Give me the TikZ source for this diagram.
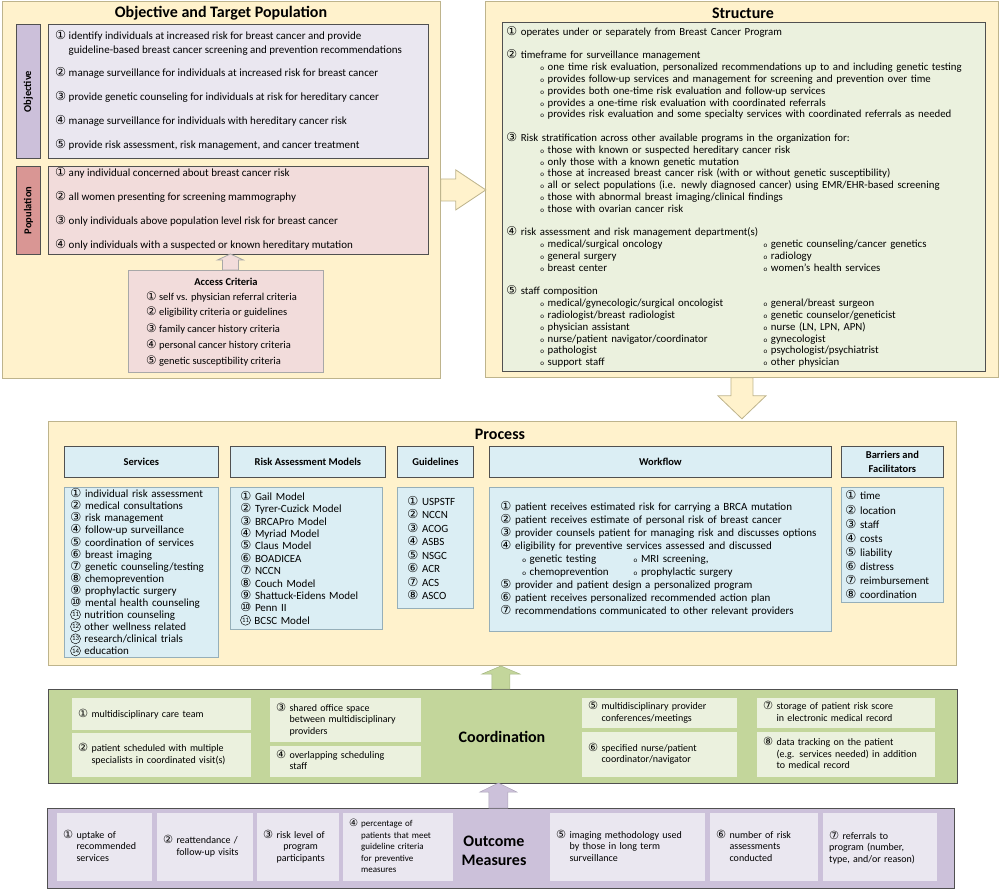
\documentclass[tikz,border=0pt]{standalone}
\usepackage{fontspec}
\setmainfont{Carlito}
\newfontfamily\circfont[Scale=1.12]{DejaVu Sans}
\usetikzlibrary{positioning,calc,shadows}
\definecolor{areafill}{RGB}{255,242,204}
\definecolor{arealine}{RGB}{190,180,140}
\definecolor{boxline}{RGB}{80,80,80}
\definecolor{objlabel}{RGB}{204,192,218}
\definecolor{objfill}{RGB}{234,231,240}
\definecolor{poplabel}{RGB}{217,150,148}
\definecolor{popfill}{RGB}{242,220,219}
\definecolor{strfill}{RGB}{235,241,222}
\definecolor{procfill}{RGB}{219,238,244}
\definecolor{procline}{RGB}{150,175,185}
\definecolor{coordfill}{RGB}{195,214,155}
\definecolor{coordsub}{RGB}{235,241,222}
\definecolor{outfill}{RGB}{204,193,218}
\definecolor{outsub}{RGB}{234,231,240}

% circled numbers and bullets
\newcommand\cnd[1]{\tikz[baseline={([yshift=1.2pt]cc.south)}]
  \node[circle, draw, line width=0.45pt, inner sep=0pt, minimum size=10pt,
    font=\fontsize{6.8}{6.8}\selectfont] (cc) {#1};}
\newcommand\cn[1]{\ifnum#1>10\relax\cnd{#1}\else{\circfont\ifcase#1\or ①\or ②\or ③\or ④\or ⑤\or ⑥\or ⑦\or ⑧\or ⑨\or ⑩\fi}\fi}
\newcommand\bul{\hspace*{34pt}{\fontsize{7}{7}\selectfont o}\ }
\newcommand\twocol[2]{\bul\makebox[216pt][l]{#1}{\fontsize{7}{7}\selectfont o}\ #2}
\newcommand\hang[2]{\cn{#1}\ \begin{tabular}[t]{@{}l@{}}#2\end{tabular}}

\begin{document}
\begin{tikzpicture}[x=1pt, y=-1pt,
  every node/.style={inner sep=0pt},
  area/.style={draw=arealine, fill=areafill, line width=0.8pt, anchor=north west},
  areatitle/.style={font=\fontsize{16}{18}\selectfont\bfseries},
  sidelabel/.style={draw=boxline, line width=0.8pt, anchor=north west, minimum width=24pt},
  sidetext/.style={rotate=90, font=\fontsize{10.5}{12}\selectfont\bfseries},
  listbox/.style={draw=boxline, line width=0.8pt, anchor=north west},
  item/.style={anchor=mid west, font=\fontsize{11}{14}\selectfont},
  headbox/.style={draw=boxline, fill=procfill, line width=0.8pt, anchor=north west,
    minimum height=31pt, align=center, font=\fontsize{10.5}{14}\selectfont\bfseries,
    drop shadow={shadow xshift=1pt, shadow yshift=-1pt, fill=black!45}},
  plist/.style={draw=procline, fill=procfill, line width=0.6pt, anchor=north west,
    align=left, font=\fontsize{11}{12.1}\selectfont},
  subbox/.style={anchor=north west, align=left, inner xsep=6pt,
    font=\fontsize{10}{11.5}\selectfont},
  bigarrow/.style={draw=arealine, fill=areafill, line width=0.8pt},
]
\useasboundingbox (0,0) rectangle (1000,889);

% --- the five areas ---
\node[area, minimum width=438pt, minimum height=377pt] (objarea) at (2,1) {};
\node[area, minimum width=513pt, minimum height=376pt] (strarea) at (485,1) {};
\node[area, minimum width=908pt, minimum height=244pt] (procarea) at (48,421) {};
\node[draw=boxline, fill=coordfill, line width=0.8pt, anchor=north west,
  minimum width=909pt, minimum height=94pt] (coordarea) at (48,689) {};
\node[draw=boxline, fill=outfill, line width=0.8pt, anchor=north west,
  minimum width=907pt, minimum height=80pt] (outarea) at (47,808) {};

% --- block arrows ---
\draw[bigarrow] ($(objarea.east)+(0,-11)$) -- ++(15,0) -- ++(0,-9) -- ++(30,20)
  -- ++(-30,20) -- ++(0,-9) -- ++(-15,0) -- cycle;
\draw[bigarrow] ($(strarea.south)+(-11,0)$) -- ++(0,18) -- ++(-13,0) -- ++(24,23)
  -- ++(24,-23) -- ++(-13,0) -- ++(0,-18) -- cycle;
\draw[fill=coordfill, draw=coordfill!85!black, line width=0.5pt]
  ($(coordarea.north)+(-11,0)$) -- ++(0,-15) -- ++(-10,0) -- ++(19,-8)
  -- ++(19,8) -- ++(-10,0) -- ++(0,15) -- cycle;
\draw[fill=outfill, draw=outfill!85!black, line width=0.5pt]
  ($(outarea.north)+(-12,0)$) -- ++(0,-16) -- ++(-9,0) -- ++(18.5,-9)
  -- ++(18.5,9) -- ++(-9,0) -- ++(0,16) -- cycle;

% --- Objective and Target Population ---
\node[areatitle] (objtitle) at (221,13) {Objective and Target Population};
\node[sidelabel, fill=objlabel, minimum height=134pt] (objlab) at (16,24) {};
\node[sidetext] (objlabtext) at (objlab.center) {Objective};
\node[listbox, fill=objfill, minimum width=380pt, minimum height=134pt] (objbox) at (48,24) {};
\node[item] (obj1) at (55,37) {\hang{1}{identify individuals at increased risk for breast cancer and provide\\
  guideline-based breast cancer screening and prevention recommendations}};
\foreach \y/\t [count=\i from 2] in {
  74/manage surveillance for individuals at increased risk for breast cancer,
  98/provide genetic counseling for individuals at risk for hereditary cancer,
  122/manage surveillance for individuals with hereditary cancer risk,
  146/{provide risk assessment, risk management, and cancer treatment}}
  \node[item] (obj\i) at (55,\y) {\cn{\i}\ \t};

\node[sidelabel, fill=poplabel, minimum height=88pt] (poplab) at (16,166) {};
\node[sidetext] (poplabtext) at (poplab.center) {Population};
\node[listbox, fill=popfill, minimum width=380pt, minimum height=88pt] (popbox) at (48,166) {};
\foreach \y/\t [count=\i] in {
  174/any individual concerned about breast cancer risk,
  198/all women presenting for screening mammography,
  222/only individuals above population level risk for breast cancer,
  246/only individuals with a suspected or known hereditary mutation}
  \node[item] (pop\i) at (55,\y) {\cn{\i}\ \t};

\node[listbox, draw=boxline!50, fill=popfill, minimum width=195pt, minimum height=102pt] (accbox) at (128,270) {};
\draw[fill=popfill, draw=boxline!50, line width=0.8pt]
  ($(accbox.north)+(-3.5,0)$) -- ++(0,-10) -- ++(-5,0) -- ++(13,-6)
  -- ++(13,6) -- ++(-5,0) -- ++(0,10) -- cycle;
\node[font=\fontsize{10.5}{12}\selectfont\bfseries] (acctitle) at (226,282) {Access Criteria};
\foreach \y/\t [count=\i] in {
  298/self vs. physician referral criteria,
  313/eligibility criteria or guidelines,
  330/family cancer history criteria,
  346/personal cancer history criteria,
  362/genetic susceptibility criteria}
  \node[item, font=\fontsize{10.5}{12}\selectfont] (acc\i) at (146,\y) {\cn{\i}\ \t};

% --- Structure ---
\node[areatitle] (strtitle) at (743,13) {Structure};
\node[listbox, fill=strfill, text width=475pt, inner xsep=4pt, minimum height=349pt,
  align=left, font=\fontsize{10.8}{11.8}\selectfont] (strbox) at (502,22) {%
\cn{1} operates under or separately from Breast Cancer Program\\[11.8pt]
\cn{2} timeframe for surveillance management\\
\bul one time risk evaluation, personalized recommendations up to and including genetic testing\\
\bul provides follow-up services and management for screening and prevention over time\\
\bul provides both one-time risk evaluation and follow-up services\\
\bul provides a one-time risk evaluation with coordinated referrals\\
\bul provides risk evaluation and some specialty services with coordinated referrals as needed\\[11.8pt]
\cn{3} Risk stratification across other available programs in the organization for:\\
\bul those with known or suspected hereditary cancer risk\\
\bul only those with a known genetic mutation\\
\bul those at increased breast cancer risk (with or without genetic susceptibility)\\
\bul all or select populations (i.e. newly diagnosed cancer) using EMR/EHR-based screening\\
\bul those with abnormal breast imaging/clinical findings\\
\bul those with ovarian cancer risk\\[11.8pt]
\cn{4} risk assessment and risk management department(s)\\
\twocol{medical/surgical oncology}{genetic counseling/cancer genetics}\\
\twocol{general surgery}{radiology}\\
\twocol{breast center}{women’s health services}\\[11.8pt]
\cn{5} staff composition\\
\twocol{medical/gynecologic/surgical oncologist}{general/breast surgeon}\\
\twocol{radiologist/breast radiologist}{genetic counselor/geneticist}\\
\twocol{physician assistant}{nurse (LN, LPN, APN)}\\
\twocol{nurse/patient navigator/coordinator}{gynecologist}\\
\twocol{pathologist}{psychologist/psychiatrist}\\
\twocol{support staff}{other physician}};

% --- Process ---
\node[areatitle] (proctitle) at (500,434) {Process};
\node[headbox, minimum width=154pt] (svchead) at (64,446) {Services};
\node[headbox, minimum width=155pt] (riskhead) at (230,446) {Risk Assessment Models};
\node[headbox, minimum width=76pt] (guidehead) at (397,446) {Guidelines};
\node[headbox, minimum width=342pt] (workhead) at (489,446) {Workflow};
\node[headbox, minimum width=102pt] (barhead) at (841,446) {Barriers and\\Facilitators};

\node[plist, text width=142pt, inner xsep=6pt, minimum height=170pt] (svclist) at (64,487) {%
\cn{1} individual risk assessment\\ \cn{2} medical consultations\\ \cn{3} risk management\\
\cn{4} follow-up surveillance\\ \cn{5} coordination of services\\ \cn{6} breast imaging\\
\cn{7} genetic counseling/testing\\ \cn{8} chemoprevention\\ \cn{9} prophylactic surgery\\
\cn{10} mental health counseling\\ \cn{11} nutrition counseling\\ \cn{12} other wellness related\\
\cn{13} research/clinical trials\\ \cn{14} education};
\node[plist, text width=132pt, inner xsep=10pt, minimum height=142pt,
  font=\fontsize{11}{12.4}\selectfont] (risklist) at (230,487) {%
\cn{1} Gail Model\\ \cn{2} Tyrer-Cuzick Model\\ \cn{3} BRCAPro Model\\ \cn{4} Myriad Model\\
\cn{5} Claus Model\\ \cn{6} BOADICEA\\ \cn{7} NCCN\\ \cn{8} Couch Model\\
\cn{9} Shattuck-Eidens Model\\ \cn{10} Penn II\\ \cn{11} BCSC Model};
\node[plist, text width=56pt, inner xsep=10pt, minimum height=121pt,
  font=\fontsize{11}{13.5}\selectfont] (guidelist) at (397,487) {%
\cn{1} USPSTF\\ \cn{2} NCCN\\ \cn{3} ACOG\\ \cn{4} ASBS\\
\cn{5} NSGC\\ \cn{6} ACR\\ \cn{7} ACS\\ \cn{8} ASCO};
\node[plist, text width=320pt, inner xsep=11pt, minimum height=144pt,
  font=\fontsize{11}{13}\selectfont] (worklist) at (489,487) {%
\cn{1} patient receives estimated risk for carrying a BRCA mutation\\
\cn{2} patient receives estimate of personal risk of breast cancer\\
\cn{3} provider counsels patient for managing risk and discusses options\\
\cn{4} eligibility for preventive services assessed and discussed\\
\hspace*{22pt}{\fontsize{7}{7}\selectfont o} \makebox[104pt][l]{genetic testing}{\fontsize{7}{7}\selectfont o} MRI screening,\\
\hspace*{22pt}{\fontsize{7}{7}\selectfont o} \makebox[104pt][l]{chemoprevention}{\fontsize{7}{7}\selectfont o} prophylactic surgery\\
\cn{5} provider and patient design a personalized program\\
\cn{6} patient receives personalized recommended action plan\\
\cn{7} recommendations communicated to other relevant providers};
\node[plist, text width=94pt, inner xsep=4pt, minimum height=115pt,
  font=\fontsize{11}{14.1}\selectfont] (barlist) at (841,487) {%
\cn{1} time\\ \cn{2} location\\ \cn{3} staff\\ \cn{4} costs\\
\cn{5} liability\\ \cn{6} distress\\ \cn{7} reimbursement\\ \cn{8} coordination};

% --- Coordination ---
\node[font=\fontsize{16}{18}\selectfont\bfseries] (coordtitle) at (502,737) {Coordination};
\node[subbox, fill=coordsub, text width=167pt, minimum height=32pt] (co1) at (72,698)
  {\cn{1} multidisciplinary care team};
\node[subbox, fill=coordsub, text width=167pt, minimum height=44pt] (co2) at (72,733)
  {\hang{2}{patient scheduled with multiple\\specialists in coordinated visit(s)}};
\node[subbox, fill=coordsub, text width=139pt, minimum height=44pt] (co3) at (270,698)
  {\hang{3}{shared office space\\between multidisciplinary\\providers}};
\node[subbox, fill=coordsub, text width=139pt, minimum height=31pt] (co4) at (270,746)
  {\hang{4}{overlapping scheduling\\staff}};
\node[subbox, fill=coordsub, text width=143pt, minimum height=30pt] (co5) at (582,698)
  {\hang{5}{multidisciplinary provider\\conferences/meetings}};
\node[subbox, fill=coordsub, text width=143pt, minimum height=45pt] (co6) at (582,732)
  {\hang{6}{specified nurse/patient\\coordinator/navigator}};
\node[subbox, fill=coordsub, text width=166pt, minimum height=30pt] (co7) at (757,698)
  {\hang{7}{storage of patient risk score\\in electronic medical record}};
\node[subbox, fill=coordsub, text width=166pt, minimum height=45pt] (co8) at (757,732)
  {\hang{8}{data tracking on the patient\\(e.g. services needed) in addition\\to medical record}};

% --- Outcome Measures ---
\node[font=\fontsize{16}{18.5}\selectfont\bfseries, align=center] (outtitle) at (494,851) {Outcome\\Measures};
\node[subbox, fill=outsub, text width=83pt, minimum height=68pt] (out1) at (57,813)
  {\hang{1}{uptake of\\recommended\\services}};
\node[subbox, fill=outsub, text width=84pt, minimum height=68pt] (out2) at (157,813)
  {\hang{2}{reattendance /\\follow-up visits}};
\node[subbox, fill=outsub, text width=70pt, minimum height=68pt] (out3) at (257,813)
  {\cn{3}\ \begin{tabular}[t]{@{}c@{}}risk level of\\program\\participants\end{tabular}};
\node[subbox, fill=outsub, text width=98pt, minimum height=68pt,
  font=\fontsize{9}{11.5}\selectfont] (out4) at (343,813)
  {\hang{4}{percentage of\\patients that meet\\guideline criteria\\for preventive\\measures}};
\node[subbox, fill=outsub, text width=143pt, minimum height=68pt] (out5) at (550,813)
  {\hang{5}{imaging methodology used\\by those in long term\\surveillance}};
\node[subbox, fill=outsub, text width=96pt, minimum height=68pt] (out6) at (710,813)
  {\hang{6}{number of risk\\assessments\\conducted}};
\node[subbox, fill=outsub, text width=102pt, minimum height=68pt] (out7) at (823,813)
  {\cn{7} referrals to\\program (number,\\type, and/or reason)};
\end{tikzpicture}
\end{document}
